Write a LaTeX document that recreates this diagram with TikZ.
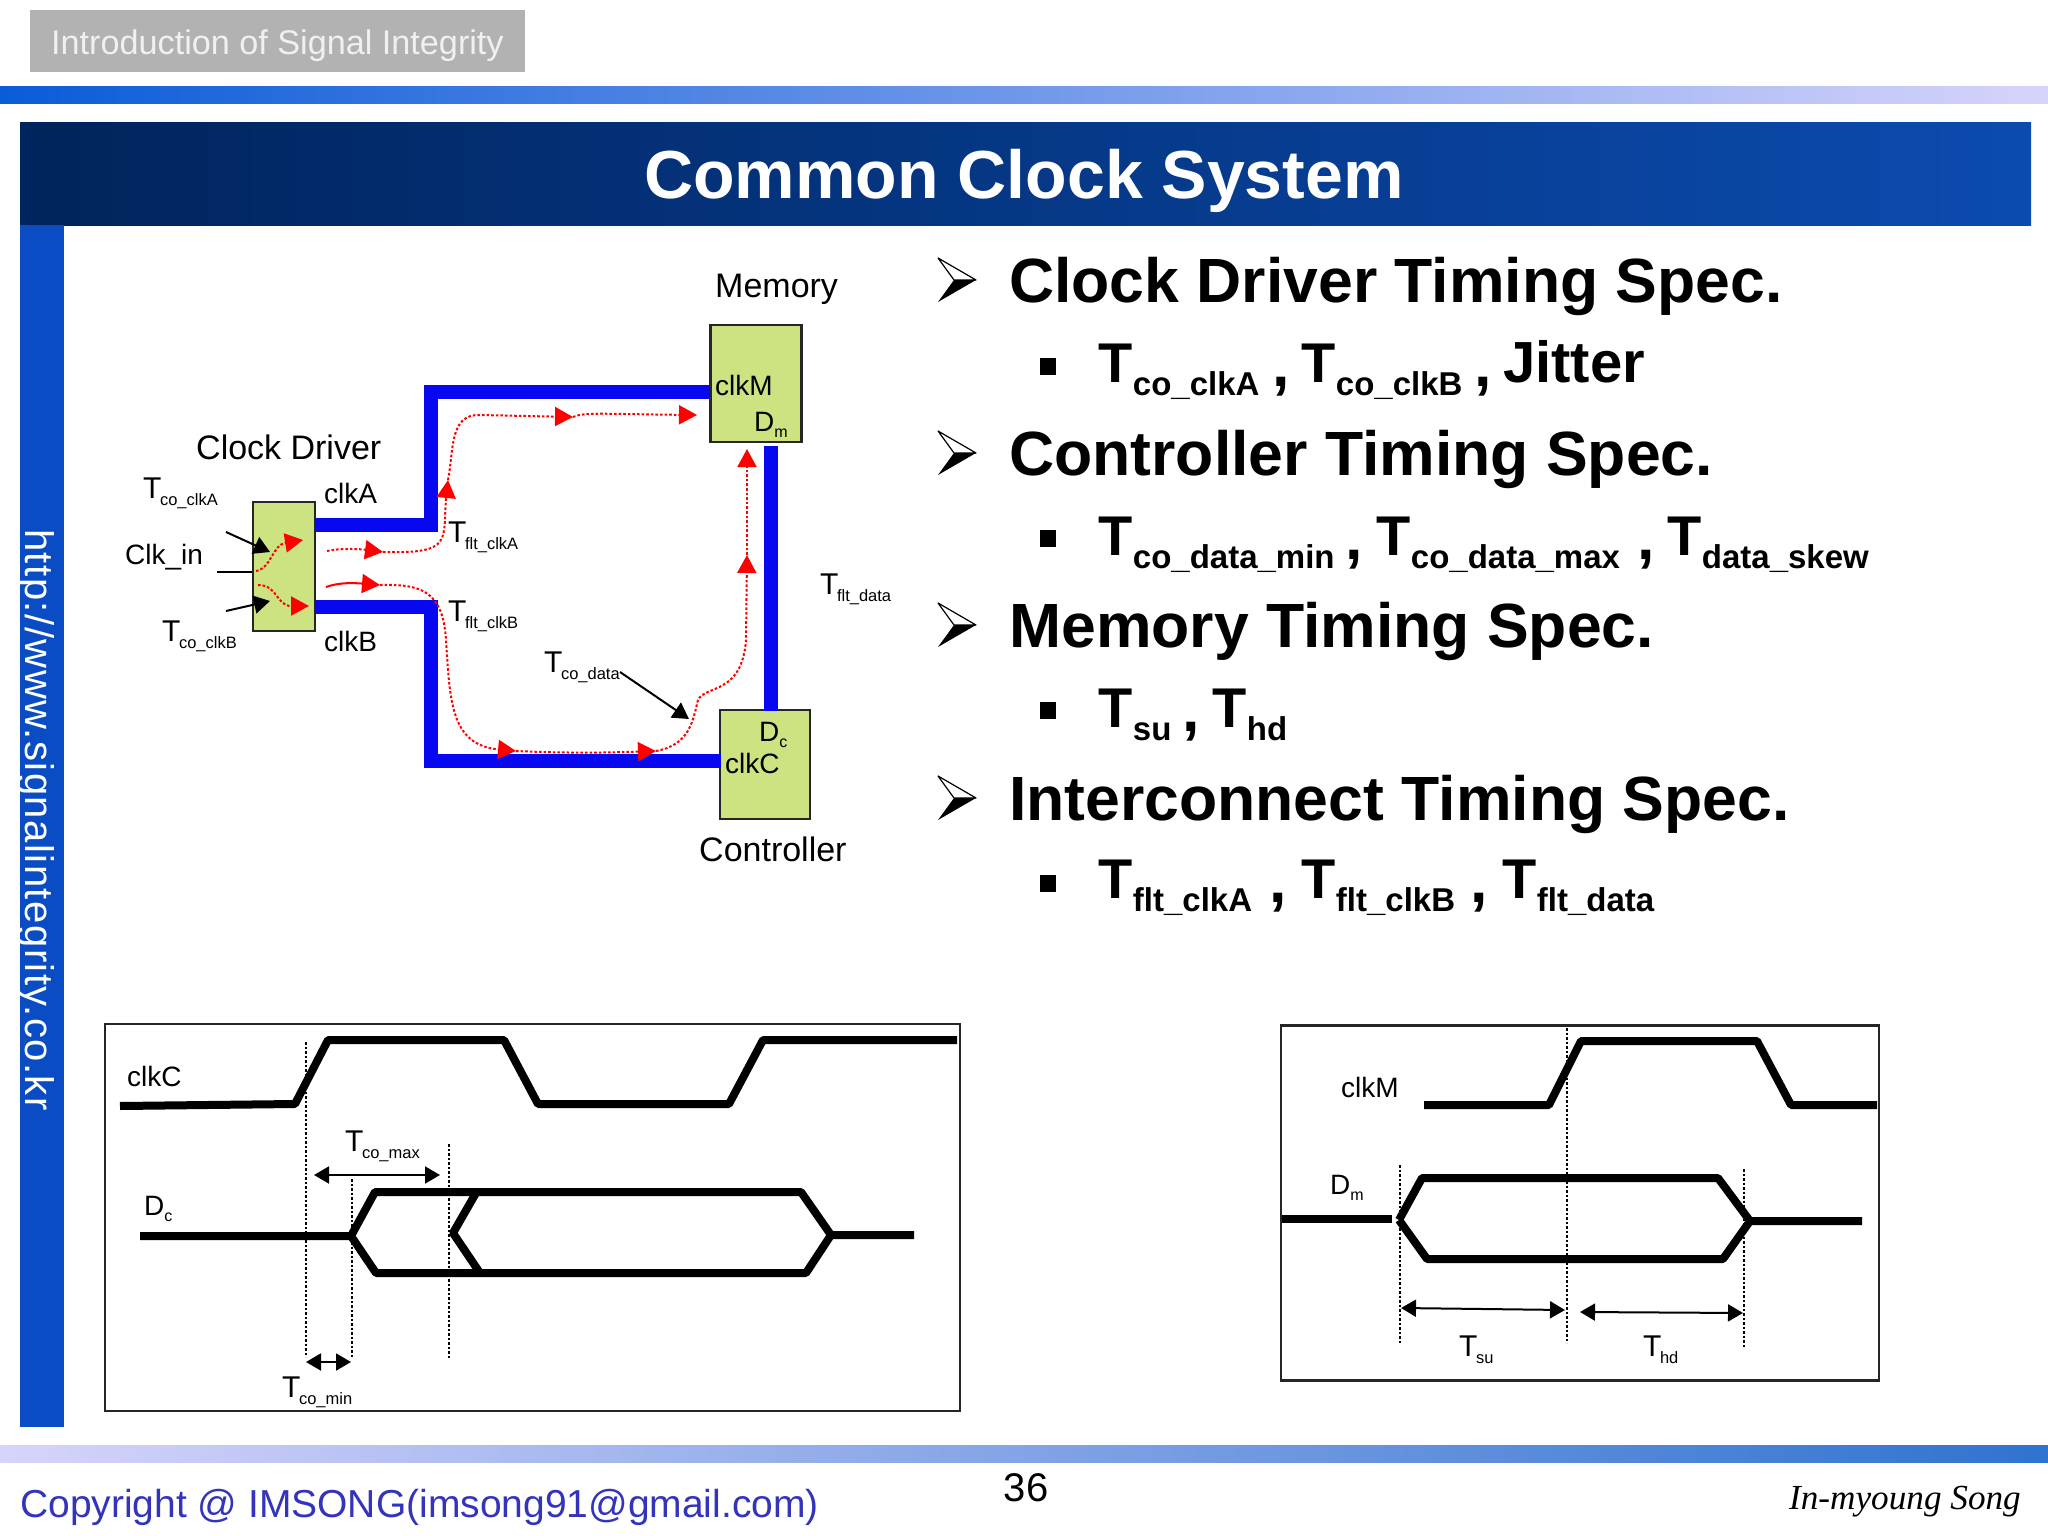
\documentclass[tikz,border=0pt]{standalone}
\usepackage{fontspec}
\setmainfont{Liberation Sans}
\newfontfamily\signfont{Liberation Serif}
\newfontfamily\sitefont[LetterSpace=3.75]{Liberation Sans}
\usetikzlibrary{arrows.meta}
\definecolor{wireblue}{HTML}{0808F0}
\definecolor{boxgreen}{HTML}{CDE280}
\definecolor{sideblue}{HTML}{0A4CC4}
\definecolor{copyblue}{HTML}{3333BB}
\definecolor{barstrong}{HTML}{0A5CD8}
\definecolor{barend}{HTML}{2F73D0}
\definecolor{barpale}{HTML}{D6D4FB}
\tikzset{
  every node/.style={inner sep=0pt},
  wire/.style={draw=wireblue,line width=14pt,line join=miter},
  gbox/.style={draw=black!85,fill=boxgreen,line width=2.2pt},
  frame/.style={draw=black!85,fill=white,line width=2.4pt},
  lab/.style={font=\fontsize{28}{28}\selectfont},
  biglab/.style={font=\fontsize{34}{34}\selectfont},
  head/.style={font=\fontsize{62.5}{62.5}\selectfont\bfseries},
  redpath/.style={red,line width=2pt,dash pattern=on 2.6pt off 2pt,-{Triangle[length=18pt,width=19pt]}},
  blackarrow/.style={black,line width=2pt,-{Triangle[length=16pt,width=18pt]}},
  span/.style={black,line width=2pt,{Triangle[length=15pt,width=17pt]}-{Triangle[length=15pt,width=17pt]}},
  sig/.style={black,line width=8pt,line join=bevel},
  guide/.style={black,line width=1.6pt,dash pattern=on 2.5pt off 2pt},
  bullet/.style={fill=black,minimum width=16pt,minimum height=17pt}
}
\begin{document}
\begin{tikzpicture}[x=1pt,y=-1pt]
      \newcommand\Tlab[1]{{\fontsize{30}{30}\selectfont T}\kern-1.5pt\raisebox{-7pt}{\fontsize{16.5}{16.5}\selectfont #1}}
      \newcommand\Tbig[1]{{\fontsize{56}{56}\selectfont\bfseries T\kern.5pt\raisebox{-13pt}{\fontsize{33}{33}\selectfont #1}}}
      \newcommand\Dlab[2]{#1\kern0pt\raisebox{-6pt}{\fontsize{16}{16}\selectfont #2}}
      \useasboundingbox (0,0) rectangle (2048,1536);
      \fill[white] (0,0) rectangle (2048,1536);

      \node[fill=black!30,minimum width=495pt,minimum height=62pt] (tag) at (277.5,41) {};
      \draw[anchor=base west,font=\fontsize{34.2}{34.2}\selectfont,black!6] (51,55) node (tagText) {Introduction of Signal Integrity};
      \shade[left color=barstrong,right color=barpale] (0,87) rectangle (2048,104);
      \shade[left color=barpale,right color=barend] (0,1445) rectangle (2048,1462);
      \shade[left color={rgb,255:red,0;green,36;blue,92},right color={rgb,255:red,11;green,75;blue,175}] (20,123) rectangle (2031,225);
      \draw[anchor=base,font=\fontsize{68}{68}\selectfont\bfseries,white] (1024,198) node (title) {Common Clock System};
      \fill[sideblue] (20,225) rectangle (64,1427);
      \draw (25,529) node[anchor=base west,rotate=-90,font=\sitefont\fontsize{40}{40}\selectfont,white] (site) {http://www.signalintegrity.co.kr};

      \node[gbox,minimum width=62pt,minimum height=129pt] (driver) at (284,566.5) {};
      \node[gbox,minimum width=91pt,minimum height=116.5pt] (memory) at (756,383.5) {};
      \node[gbox,minimum width=90pt,minimum height=109pt] (control) at (765,764.5) {};
      \coordinate (portA) at (315,524.5);
      \coordinate (portB) at (315,607);
      \coordinate (portM) at (710,391.5);
      \coordinate (portC) at (721,761);
      \coordinate (portU) at (771,445.5);
      \coordinate (portD) at (771,711);
      \draw[wire] (portA) -| (431,458) |- (portM);
      \draw[wire] (portB) -| (431,680) |- (portC);
      \draw[wire] (portU) -- (portD);

      \draw[anchor=base west,biglab] (715,297) node (memLab) {Memory};
      \draw[anchor=base west,biglab] (196,459) node (drvLab) {Clock Driver};
      \draw[anchor=base west,biglab] (699,861) node (ctlLab) {Controller};
      \draw[anchor=base west,lab] (324,503) node (clkA) {clkA};
      \draw[anchor=base west,lab] (324,651) node (clkB) {clkB};
      \draw[anchor=base west,lab] (125,564) node (clkIn) {Clk\_in};
      \draw[anchor=base west,lab] (715,395) node (clkM) {clkM};
      \draw[anchor=base west,lab] (725,773.5) node (clkC) {clkC};
      \draw[anchor=base west,lab] (754,431) node (dm) {\Dlab{D}{m}};
      \draw[anchor=base west,lab] (759,741) node (dc) {\Dlab{D}{c}};
      \draw[anchor=base west,lab] (143,498) node (tcoA) {\Tlab{co\_clkA}};
      \draw[anchor=base west,lab] (162,641) node (tcoB) {\Tlab{co\_clkB}};
      \draw[anchor=base west,lab] (448,542) node (tfltA) {\Tlab{flt\_clkA}};
      \draw[anchor=base west,lab] (448,621) node (tfltB) {\Tlab{flt\_clkB}};
      \draw[anchor=base west,lab] (820,594) node (tfltD) {\Tlab{flt\_data}};
      \draw[anchor=base west,lab] (544,672) node (tcoD) {\Tlab{co\_data}};

      \coordinate (inA) at (226,532);
      \coordinate (inB) at (226,611);
      \coordinate (inC) at (217,572);
      \coordinate (hitA) at (270,552);
      \coordinate (hitB) at (270,601);
      \coordinate (codata) at (620,672);
      \coordinate (hitD) at (689,719);
      \draw[blackarrow] (inA) -- (hitA);
      \draw[blackarrow] (inB) -- (hitB);
      \draw[black,line width=2pt] (inC) -- (inC -| driver.west);
      \draw[blackarrow] (codata) -- (hitD);

      \coordinate (ra) at (256,571);
      \coordinate (rb) at (303,540);
      \coordinate (rc) at (258,585);
      \coordinate (rd) at (309,606);
      \coordinate (re) at (327,551);
      \coordinate (rf) at (383,552);
      \coordinate (rg) at (448,480);
      \coordinate (rh) at (573,417);
      \coordinate (ri) at (697,415);
      \coordinate (rj) at (326,587);
      \coordinate (rk) at (380,585);
      \coordinate (rl) at (516,751);
      \coordinate (rm) at (656,751);
      \coordinate (rn) at (747,555);
      \coordinate (ro) at (747,449);
      \draw[redpath] (ra) .. controls (272,568) and (272,545) .. (rb);
      \draw[redpath] (rc) .. controls (278,585) and (276,606) .. (rd);
      \draw[redpath] (re) .. controls (340,548) and (360,549) .. (rf);
      \draw[redpath] (rf) .. controls (455,554) and (442,540) .. (rg);
      \draw[redpath] (rg) .. controls (454,450) and (449,414) .. (480,415) -- (rh);
      \draw[redpath] (rh) .. controls (585,412) and (600,414) .. (ri);
      \draw[redpath,solid] (rj) .. controls (340,582) and (355,583) .. (rk);
      \draw[redpath] (rk) .. controls (420,584) and (443,590) .. (446,640) .. controls (450,700) and (450,745) .. (rl);
      \draw[redpath] (rl) .. controls (560,753) and (600,753) .. (rm);
      \draw[redpath] (rm) .. controls (690,745) and (693,720) .. (698,700) .. controls (705,685) and (742,695) .. (746,640) -- (rn);
      \draw[redpath] (rn) -- (ro);

      \foreach \y in {258,431,603,776} {
        \draw[black,line width=1.2pt,line join=round] (938,\y) -- (976,\y+22) -- (954,\y+22) -- cycle;
        \fill[black] (938,\y+44) -- (976,\y+22) -- (954,\y+22) -- cycle;
      }
      \draw[anchor=base west,head] (1009,302) node (specA) {Clock Driver Timing Spec.};
      \draw[anchor=base west,head] (1009,475) node (specB) {Controller Timing Spec.};
      \draw[anchor=base west,head] (1009,647) node (specC) {Memory Timing Spec.};
      \draw[anchor=base west,head] (1009,820) node (specD) {Interconnect Timing Spec.};
      \node[bullet] (dotA) at (1048,366) {};
      \node[bullet] (dotB) at (1048,538) {};
      \node[bullet] (dotC) at (1048,710) {};
      \node[bullet] (dotD) at (1048,883) {};

      \draw[anchor=base west] (1098,382) node (tA) {\Tbig{co\_clkA}};
      \draw[anchor=base west,head] (1272,386) node (cA) {,};
      \draw[anchor=base west] (1301,382) node (tB) {\Tbig{co\_clkB}};
      \draw[anchor=base west,head] (1474,386) node (cB) {,};
      \draw[anchor=base west,font=\fontsize{58}{58}\selectfont\bfseries] (1503,382) node (jit) {Jitter};
      \draw[anchor=base west] (1098,555) node (tC) {\Tbig{co\_data\_min}};
      \draw[anchor=base west,head] (1345,559) node (cC) {,};
      \draw[anchor=base west] (1376,555) node (tD) {\Tbig{co\_data\_max}};
      \draw[anchor=base west,head] (1637,559) node (cD) {,};
      \draw[anchor=base west] (1667,555) node (tE) {\Tbig{data\_skew}};
      \draw[anchor=base west] (1098,727) node (tF) {\Tbig{su}};
      \draw[anchor=base west,head] (1182,731) node (cE) {,};
      \draw[anchor=base west] (1212,727) node (tG) {\Tbig{hd}};
      \draw[anchor=base west] (1098,898) node (tH) {\Tbig{flt\_clkA}};
      \draw[anchor=base west,head] (1269,902) node (cF) {,};
      \draw[anchor=base west] (1301,898) node (tI) {\Tbig{flt\_clkB}};
      \draw[anchor=base west,head] (1470,902) node (cG) {,};
      \draw[anchor=base west] (1502,898) node (tJ) {\Tbig{flt\_data}};

      \node[frame,minimum width=855pt,minimum height=387pt] (wavesC) at (532.5,1217.5) {};
      \draw[sig] (120,1106) -- (295,1104) -- (328,1040) -- (504,1040) -- (538,1104) -- (729,1104) -- (763,1040) -- (957,1040);
      \draw[sig] (140,1236) -- (351,1236) -- (375,1192) -- (801,1192) -- (831,1235) -- (914,1235);
      \draw[sig] (351,1236) -- (376,1273) -- (806,1273) -- (831,1235);
      \draw[sig] (476,1193) -- (453,1233) -- (480,1273);
      \draw[guide] (306,1042) -- (306,1357);
      \draw[guide] (352,1179) -- (352,1358);
      \draw[guide] (449,1144) -- (449,1359);
      \coordinate (maxL) at (314,1175);
      \coordinate (maxR) at (440,1175);
      \coordinate (minL) at (306,1362);
      \coordinate (minR) at (351,1362);
      \draw[span] (maxL) -- (maxR);
      \draw[span] (minL) -- (minR);
      \draw[anchor=base west,lab] (127,1086) node (waveC) {clkC};
      \draw[anchor=base west,lab] (144,1215) node (waveDc) {\Dlab{D}{c}};
      \draw[anchor=base west,lab] (345,1151) node (tMax) {\Tlab{co\_max}};
      \draw[anchor=base west,lab] (282,1397) node (tMin) {\Tlab{co\_min}};

      \node[frame,minimum width=598pt,minimum height=355pt] (wavesM) at (1580,1203) {};
      \draw[sig] (1424,1105) -- (1549,1105) -- (1581,1041) -- (1757,1041) -- (1791,1105) -- (1877,1105);
      \draw[sig] (1282,1219) -- (1392,1219);
      \draw[sig] (1399,1220) -- (1422,1178) -- (1718,1178) -- (1750,1221) -- (1862,1221);
      \draw[sig] (1399,1220) -- (1427,1259) -- (1723,1259) -- (1750,1221);
      \draw[guide] (1400,1165) -- (1400,1343);
      \draw[guide] (1567,1028) -- (1567,1343);
      \draw[guide] (1744,1169) -- (1744,1348);
      \coordinate (suL) at (1401,1308);
      \coordinate (suR) at (1565,1310);
      \coordinate (hdL) at (1580,1312);
      \coordinate (hdR) at (1743,1313);
      \draw[span] (suL) -- (suR);
      \draw[span] (hdL) -- (hdR);
      \draw[anchor=base west,lab] (1341,1097) node (waveM) {clkM};
      \draw[anchor=base west,lab] (1330,1194) node (waveDm) {\Dlab{D}{m}};
      \draw[anchor=base west,lab] (1459,1356) node (tSu) {\Tlab{su}};
      \draw[anchor=base west,lab] (1643,1356) node (tHd) {\Tlab{hd}};

      \draw[anchor=base west,font=\fontsize{39}{39}\selectfont,copyblue] (20,1517) node (copy) {Copyright @ IMSONG(imsong91@gmail.com)};
      \draw[anchor=base,font=\fontsize{40}{40}\selectfont] (1026,1501) node (page) {36};
      \draw[anchor=base east,font=\signfont\itshape\fontsize{35.2}{35.2}\selectfont] (2021,1509) node (sign) {In-myoung Song};
\end{tikzpicture}
\end{document}
